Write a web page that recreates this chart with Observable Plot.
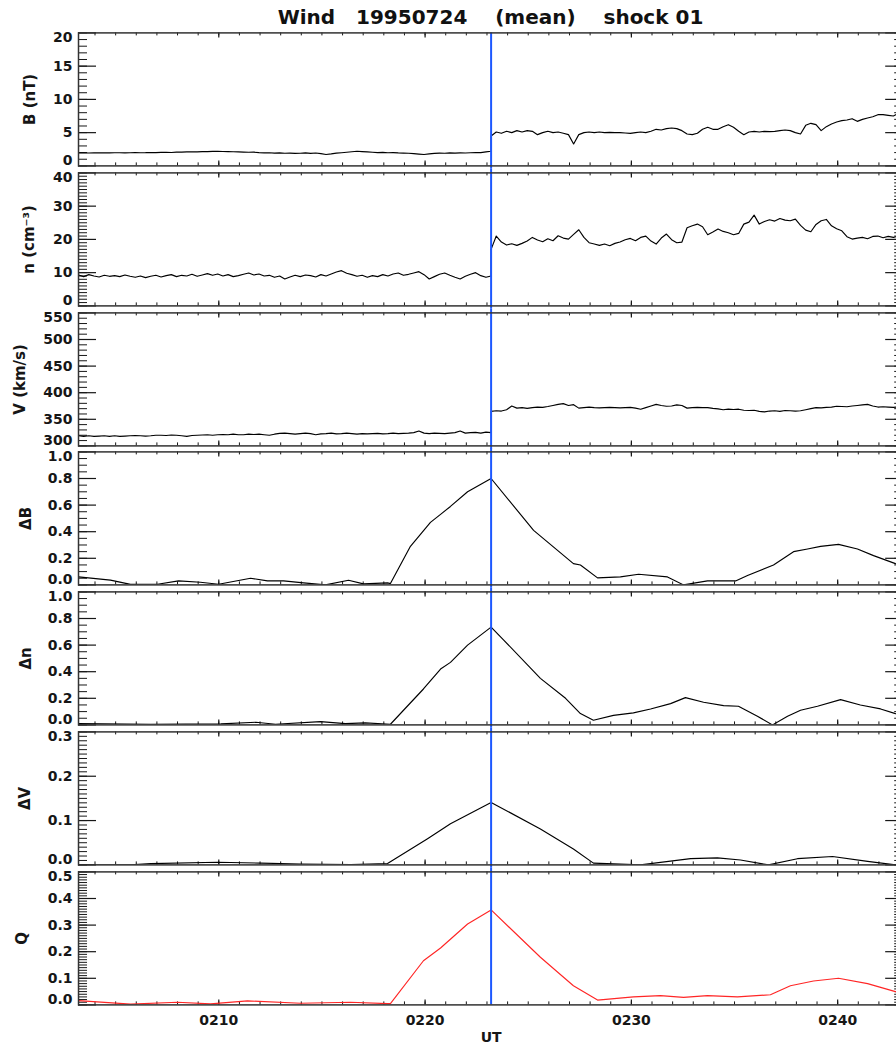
<!DOCTYPE html>
<html>
<head>
<meta charset="utf-8">
<script src="https://cdn.jsdelivr.net/npm/d3@7"></script>
<script src="https://cdn.jsdelivr.net/npm/@observablehq/plot@0.6"></script>
<style>
html,body{margin:0;padding:0;background:#fff;overflow:hidden;}
#root{position:relative;width:896px;height:1046px;overflow:hidden;background:#fff;}
#root svg{max-width:none !important;position:absolute;left:0;}
#title{position:absolute;left:78px;width:825px;top:5px;text-align:center;font-family:"DejaVu Sans";font-weight:bold;font-size:20px;line-height:24px;white-space:pre;color:#111;}
</style>
</head>
<body>
<div id="root"><div id="title">Wind   19950724    (mean)    shock 01</div></div>
<script>
// ---------- time axis (minutes after 02:00 UT) ----------
const X_DOMAIN = [3.2, 43.2];
const SHOCK_T = 23.2;
const GRID_STEP = 0.25;
const xMajor = [10, 20, 30, 40];
const xTickLabels = ["0210", "0220", "0230", "0240"];

// ---------- B (nT): pre-shock and post-shock samples ----------
const bPre = [1.95,1.96,1.94,1.95,1.97,1.96,1.95,1.97,
 1.98,1.96,1.97,2.0,1.98,1.99,2.02,2.0,
 2.03,2.05,2.02,2.06,2.08,2.1,2.12,2.1,
 2.14,2.15,2.18,2.2,2.16,2.14,2.12,2.1,
 2.08,2.05,2.06,2.0,1.96,1.98,1.92,1.95,
 1.9,1.92,1.88,1.9,1.96,1.88,1.94,1.85,
 1.72,1.8,1.92,1.98,2.05,2.12,2.2,2.15,
 2.1,2.05,2.0,2.04,1.98,2.0,1.95,1.92,
 1.9,1.85,1.78,1.72,1.8,1.88,1.92,1.9,
 1.95,1.92,1.96,1.94,1.98,2.02,2.0,2.1,2.2];
const bPost = [4.5,5.1,4.9,5.2,5.0,5.3,5.1,5.3,
 5.2,4.7,5.0,5.2,5.0,5.1,4.9,4.7,
 3.3,4.7,5.0,5.1,5.0,5.1,5.0,5.05,
 5.0,5.0,4.95,4.9,5.0,5.1,5.0,5.2,
 5.5,5.4,5.6,5.7,5.6,5.3,4.8,4.7,
 4.9,5.5,5.8,5.5,5.5,5.9,6.2,5.8,
 5.2,4.7,5.1,5.2,5.1,5.2,5.15,5.2,
 5.3,5.4,5.3,5.0,4.8,6.1,6.4,6.2,
 5.3,5.9,6.3,6.6,6.8,6.9,7.1,6.7,
 7.0,7.2,7.4,7.7,7.7,7.6,7.5,7.9,7.8];

// ---------- n (cm^-3) ----------
const nPre = [9.3,8.8,9.4,9.0,8.7,9.2,8.9,9.1,
 8.8,9.3,8.9,8.6,9.0,8.5,8.9,9.2,
 8.7,9.1,9.4,8.8,9.2,9.0,9.5,8.9,
 9.3,9.7,9.2,9.6,9.0,9.4,8.8,9.1,
 9.5,9.9,9.3,9.6,9.0,9.2,8.6,9.0,
 8.1,8.7,9.2,8.8,9.3,9.1,8.7,9.4,
 9.0,9.6,10.2,10.6,9.8,9.4,8.9,9.2,
 8.6,9.1,8.8,9.4,9.0,9.6,9.9,9.2,
 9.5,9.9,10.3,9.4,8.1,8.8,9.5,9.9,
 9.2,8.6,8.1,8.9,9.5,10.0,9.1,8.6,9.0];
const nPost = [17.0,21.0,19.2,18.3,18.7,18.2,18.8,19.5,
 20.6,19.8,19.3,20.2,19.6,21.1,20.4,20.1,
 21.5,22.9,20.6,19.0,18.6,18.2,18.6,18.1,
 18.8,19.2,19.9,20.3,19.6,20.6,21.0,19.5,
 18.6,20.4,21.6,19.9,19.0,19.2,23.5,24.1,
 24.6,23.8,21.4,22.2,23.1,22.4,22.0,21.4,
 21.8,24.6,25.2,27.3,24.6,25.4,25.9,25.5,
 26.3,25.8,25.6,26.1,24.2,22.8,22.3,24.5,
 25.6,26.0,24.1,23.2,22.6,20.8,20.1,20.4,
 20.6,20.2,20.9,21.0,20.5,20.9,20.6,21.0,20.7];

// ---------- V (km/s) ----------
const vPre = [319,318,319,318,318.5,319,318,319,
 318,318.5,319,319.5,319,318.5,319,320,
 320,319.5,320.5,320,319,318,319.5,320,
 320.5,321,320,321,321.5,321,322,321,
 321,322,321.5,322,321,320,322,323.5,
 324,323,322,323,324,323,321,322.5,
 323,324,322.5,323,324,323,322,323,
 322.5,323,323.5,322.5,323,324,323,323.5,
 324,325,328,324,323,324,323.5,323,
 324,325,328,324,325,325.5,324,326,325];
const vPost = [365,366,365.5,368,375,371,372,370.5,
 372,373,372.5,374,376,378,379.5,376,
 377.5,371,372,373,372,371.5,372,372.5,
 372,371.5,372,372.5,371,369,372,375,
 378,376,374.5,375,377,376,371,372,
 372.5,372,372,370.5,369.5,368,369,368.5,
 369,367,366.5,367,365,364,365.5,366,
 365,366.5,366,365.5,366,368,370,372,
 371.5,372.5,373,374.5,374,373.5,375,376,
 377,378,375,373,373.5,373,372.5,373,373];

// ---------- Delta B ----------
const dbT = [3.2,4.75,5.72,7.03,8.05,9.11,9.99,11.54,12.36,13.14,14.11,15.17,16.29,17.01,18.18,18.32,19.29,20.26,20.75,21.23,22.06,23.2,25.26,27.19,27.53,28.36,29.47,30.35,31.75,32.53,33.69,35.05,35.63,36.89,37.86,38.54,39.17,40.04,40.96,41.74,42.8,43.2];
const dbV = [0.06,0.036,0.004,0.005,0.03,0.02,0.005,0.05,0.03,0.03,0.015,0.0,0.035,0.008,0.015,0.01,0.29,0.47,0.53,0.59,0.70,0.80,0.41,0.16,0.15,0.053,0.06,0.08,0.06,0.0,0.03,0.03,0.07,0.15,0.25,0.27,0.29,0.305,0.27,0.22,0.16,0.14];

// ---------- Delta n ----------
const dnT = [3.2,6.7,10.1,11.8,12.75,14.93,16.14,17.1,18.32,19.92,20.75,21.23,22.06,23.2,23.8,25.59,26.81,27.53,28.16,29.13,30.1,30.93,31.9,32.62,33.5,34.47,35.19,36.11,36.84,37.57,38.2,39.02,40.14,41.1,42.08,42.8,43.2];
const dnV = [0.01,0.005,0.008,0.02,0.005,0.025,0.01,0.015,0.005,0.27,0.42,0.47,0.6,0.735,0.64,0.35,0.2,0.085,0.035,0.072,0.09,0.12,0.16,0.205,0.17,0.145,0.14,0.065,0.0,0.065,0.11,0.14,0.19,0.15,0.12,0.085,0.07];

// ---------- Delta V ----------
const dvT = [3.2,5.72,6.7,9.94,12.02,13.96,16.4,18.18,20.12,20.75,21.23,23.2,25.59,27.19,28.16,30.44,32.87,34.17,35.29,36.65,38.05,39.75,41.45,42.8,43.2];
const dvV = [0.0,0.0,0.003,0.006,0.004,0.002,0.001,0.003,0.059,0.078,0.093,0.141,0.081,0.036,0.004,0.0,0.014,0.016,0.011,0.0,0.014,0.019,0.008,0.0,0.0];

// ---------- Q ----------
const qT = [3.2,5.72,8.0,9.6,11.39,13.96,16.38,18.18,18.32,19.92,20.75,22.06,23.2,25.59,27.19,28.36,30.1,31.41,32.53,33.69,35.14,36.74,37.71,38.83,40.04,41.45,42.8,43.2];
const qV = [0.016,0.003,0.01,0.004,0.015,0.006,0.01,0.005,0.005,0.166,0.214,0.304,0.357,0.179,0.072,0.018,0.03,0.035,0.028,0.035,0.03,0.038,0.072,0.09,0.1,0.08,0.05,0.04];

// ---------- y tick values and labels ----------
const bTicks = [0,5,10,15,20];           const bTickLabels = ["0","5","10","15","20"];
const nTicks = [0,10,20,30,40];          const nTickLabels = ["0","10","20","30","40"];
const vTicks = [300,350,400,450,500,550]; const vTickLabels = ["300","350","400","450","500","550"];
const dTicks = [0,0.2,0.4,0.6,0.8,1.0];  const dTickLabels = ["0.0","0.2","0.4","0.6","0.8","1.0"];
const dvTicks = [0,0.1,0.2,0.3];         const dvTickLabels = ["0.0","0.1","0.2","0.3"];
const qTicks = [0,0.1,0.2,0.3,0.4,0.5];  const qTickLabels = ["0.0","0.1","0.2","0.3","0.4","0.5"];

const panelLabels = ["B (nT)", "n (cm\u207B\u00B3)", "V (km/s)", "\u0394B", "\u0394n", "\u0394V", "Q"];

// ---------- helpers ----------
function gridSeries(pre, post) {
  const pts = pre.map((v, i) => ({t: X_DOMAIN[0] + i * GRID_STEP, v}));
  post.forEach((v, i) => pts.push({t: SHOCK_T + i * GRID_STEP, v}));
  return pts;
}
function pairSeries(ts, vs) { return ts.map((t, i) => ({t, v: vs[i]})); }

const panels = [
  {label: panelLabels[0], labelX: 30, domain: [0, 20], ticks: bTicks, tickLabels: bTickLabels, minorStep: 1, data: gridSeries(bPre, bPost), stroke: "#000"},
  {label: panelLabels[1], labelX: 29, domain: [0, 40], ticks: nTicks, tickLabels: nTickLabels, minorStep: 1, data: gridSeries(nPre, nPost), stroke: "#000"},
  {label: panelLabels[2], labelX: 20, domain: [300, 550], ticks: vTicks, tickLabels: vTickLabels, minorStep: 10, data: gridSeries(vPre, vPost), stroke: "#000"},
  {label: panelLabels[3], labelX: 26, domain: [0, 1], ticks: dTicks, tickLabels: dTickLabels, minorStep: 0.05, data: pairSeries(dbT, dbV), stroke: "#000"},
  {label: panelLabels[4], labelX: 26, domain: [0, 1], ticks: dTicks, tickLabels: dTickLabels, minorStep: 0.05, data: pairSeries(dnT, dnV), stroke: "#000"},
  {label: panelLabels[5], labelX: 25, domain: [0, 0.3], ticks: dvTicks, tickLabels: dvTickLabels, minorStep: 0.01, data: pairSeries(dvT, dvV), stroke: "#000"},
  {label: panelLabels[6], labelX: 22, domain: [0, 0.5], ticks: qTicks, tickLabels: qTickLabels, minorStep: 0.01, data: pairSeries(qT, qV), stroke: "#ff2626"}
];

// ---------- layout ----------
const W = 904, ML = 78, MR = 0.8;
const PH = 133, STEP_Y = 139.8, TOP0 = 32.4, GAP = 3.4;
const FW = W - ML - MR;
const FONT = "DejaVu Sans";
const INK = "#161616";
const txt = {fontFamily: FONT, fontWeight: "bold", fontSize: 14, fill: INK};

const root = document.getElementById("root");
const xMinor = d3.range(4, 44, 1);

panels.forEach((p, i) => {
  const last = i === panels.length - 1;
  const mt = GAP, mb = last ? 42 : GAP;
  const minors = d3.range(0, Math.round((p.domain[1] - p.domain[0]) / p.minorStep) + 1)
    .map(k => +(p.domain[0] + k * p.minorStep).toFixed(4));
  const n = p.ticks.length;
  const mid = p.ticks.map((d, k) => k).filter(k => k > 0 && k < n - 1);
  const marks = [
    Plot.tickY(minors, {y: d => d, stroke: INK, strokeWidth: 1, insetRight: FW - 9}),
    Plot.tickY(minors, {y: d => d, stroke: INK, strokeWidth: 1, insetLeft: FW - 9}),
    Plot.tickY(p.ticks, {y: d => d, stroke: INK, strokeWidth: 1.2, insetRight: FW - 18}),
    Plot.tickY(p.ticks, {y: d => d, stroke: INK, strokeWidth: 1.2, insetLeft: FW - 18}),
    Plot.tickX(xMinor, {x: d => d, stroke: INK, strokeWidth: 1, insetBottom: PH - 3}),
    Plot.tickX(xMinor, {x: d => d, stroke: INK, strokeWidth: 1, insetTop: PH - 3}),
    Plot.tickX(xMajor, {x: d => d, stroke: INK, strokeWidth: 1.2, insetBottom: PH - 5}),
    Plot.tickX(xMajor, {x: d => d, stroke: INK, strokeWidth: 1.2, insetTop: PH - 5}),
    Plot.line(p.data, {x: "t", y: "v", stroke: p.stroke, strokeWidth: 1.15, clip: true}),
    Plot.ruleX([SHOCK_T], {stroke: "#1d58ff", strokeWidth: 2, insetTop: i === 0 ? 0 : -mt, insetBottom: last ? 0 : -mb}),
    Plot.frame({stroke: "#333", strokeWidth: 1.5}),
    // y tick labels (ends nudged inward as in the original)
    Plot.text(mid, {y: k => p.ticks[k], text: k => p.tickLabels[k], frameAnchor: "left", dx: -6, textAnchor: "end", lineAnchor: "middle", ...txt}),
    Plot.text([0], {y: k => p.ticks[k], text: k => p.tickLabels[k], frameAnchor: "left", dx: -6, dy: -5, textAnchor: "end", lineAnchor: "middle", ...txt}),
    Plot.text([n - 1], {y: k => p.ticks[k], text: k => p.tickLabels[k], frameAnchor: "left", dx: -6, dy: 4.8, textAnchor: "end", lineAnchor: "middle", ...txt}),
    // rotated panel label
    Plot.text([p.label], {text: d => d, frameAnchor: "left", dx: p.labelX - ML, rotate: -90, textAnchor: "middle", lineAnchor: "middle", ...txt, fontSize: 15})
  ];
  if (last) {
    marks.push(
      Plot.text(xMajor, {x: d => d, text: (d, k) => xTickLabels[k], frameAnchor: "bottom", dy: 16, lineAnchor: "middle", ...txt}),
      Plot.text(["UT"], {text: d => d, frameAnchor: "bottom", dy: 32.5, lineAnchor: "middle", ...txt})
    );
  }
  const svg = Plot.plot({
    width: W, height: mt + PH + mb,
    marginLeft: ML, marginRight: MR, marginTop: mt, marginBottom: mb,
    x: {domain: X_DOMAIN, axis: null},
    y: {domain: p.domain, axis: null},
    style: {maxWidth: "none", background: "transparent", overflow: "visible"},
    marks
  });
  svg.style.position = "absolute";
  svg.style.left = "0px";
  svg.style.top = (TOP0 + STEP_Y * i - mt) + "px";
  root.appendChild(svg);
});
</script>
</body>
</html>
